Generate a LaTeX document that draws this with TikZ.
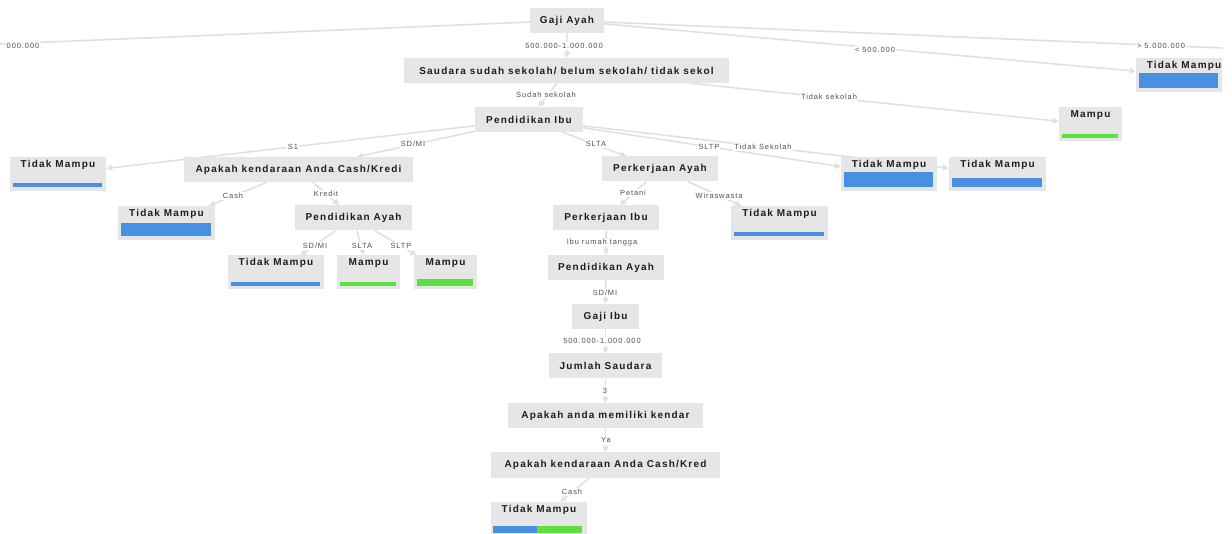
\documentclass[tikz,border=0pt]{standalone}
\usepackage{fontspec}
\usetikzlibrary{calc,arrows.meta,backgrounds}
\newfontfamily\boxfont[LetterSpace=12]{Liberation Sans}
\newfontfamily\lblfont[LetterSpace=12]{Liberation Sans}
\definecolor{boxgray}{HTML}{E6E6E6}
\definecolor{edgegray}{HTML}{E0E0E0}
\definecolor{txtdark}{HTML}{1E1E1E}
\definecolor{lblgray}{HTML}{4F4F5A}
\definecolor{barblue}{HTML}{4A90E2}
\definecolor{bargreen}{HTML}{5CE03E}
\tikzset{
	tanya/.style={fill=boxgray, inner sep=0pt, minimum height=25pt, text=txtdark, font=\boxfont\bfseries\fontsize{10}{11}\selectfont},
	daun/.style={fill=boxgray, inner sep=0pt, minimum height=34pt},
	daunlbl/.style={anchor=north, yshift=-2pt, inner sep=1pt, text=txtdark, font=\boxfont\bfseries\fontsize{10}{11}\selectfont},
	ket/.style={fill=white, inner sep=1pt, text=lblgray, font=\lblfont\fontsize{7.5}{8}\selectfont},
	garis/.style={draw=edgegray, line width=1.6pt},
	panah/.style={garis, -{Triangle[length=6pt,width=6pt]}},
}
\def\skorbar[#1](#2)(#3){\fill[#1] ($(#2.south west)+(3,-4)$) rectangle ($(#2.south east)+(-4,{-4-#3})$);}

\begin{document}
\begin{tikzpicture}[x=1pt,y=-1pt]
		%%%%% START %%%%%
		\useasboundingbox (0,0) rectangle (1232,534);
		
		% pertanyaan
		\node[tanya, minimum width=74pt] (gajiayah) at (567,20.5) {Gaji Ayah};
		\node[tanya, minimum width=325pt] (saudara) at (566.5,70.5) {Saudara sudah sekolah/ belum sekolah/ tidak sekol};
		\node[tanya, minimum width=108pt] (pendibu) at (529,119.5) {Pendidikan Ibu};
		\node[tanya, minimum width=229pt] (kendcash1) at (298.5,169.5) {Apakah kendaraan Anda Cash/Kredi};
		\node[tanya, minimum width=116pt] (perkayah) at (660,169) {Perkerjaan Ayah};
		\node[tanya, minimum width=117pt] (pendayah1) at (353.5,218) {Pendidikan Ayah};
		\node[tanya, minimum width=106pt] (perkibu) at (606,218) {Perkerjaan Ibu};
		\node[tanya, minimum width=116pt] (pendayah2) at (606,267.5) {Pendidikan Ayah};
		\node[tanya, minimum width=67pt] (gajiibu) at (605.5,316.5) {Gaji Ibu};
		\node[tanya, minimum width=113pt] (jumlah) at (605.5,366) {Jumlah Saudara};
		\node[tanya, minimum width=195pt] (memiliki) at (605.5,415.5) {Apakah anda memiliki kendar};
		\node[tanya, minimum width=229pt] (kendcash2) at (605.5,465) {Apakah kendaraan Anda Cash/Kred};
		
		% hasil
		\node[daun, minimum width=86pt, label={[daunlbl, xshift=5pt]north:Tidak Mampu}] (tmtop) at (1179,75) {};
		\node[daun, minimum width=63pt, label={[daunlbl]north:Mampu}] (mptdk) at (1090.5,124.5) {};
		\node[daun, minimum width=96pt, label={[daunlbl]north:Tidak Mampu}] (tms1) at (58,174) {};
		\node[daun, minimum width=96pt, label={[daunlbl]north:Tidak Mampu}] (tmsltp) at (889,174) {};
		\node[daun, minimum width=97pt, label={[daunlbl]north:Tidak Mampu}] (tmtdk) at (997.5,174) {};
		\node[daun, minimum width=97pt, label={[daunlbl]north:Tidak Mampu}] (tmcash) at (166.5,223) {};
		\node[daun, minimum width=97pt, label={[daunlbl]north:Tidak Mampu}] (tmwira) at (779.5,223) {};
		\node[daun, minimum width=96pt, label={[daunlbl]north:Tidak Mampu}] (tmsdmi) at (276,272.5) {};
		\node[daun, minimum width=63pt, label={[daunlbl]north:Mampu}] (mpslta) at (368.5,272.5) {};
		\node[daun, minimum width=63pt, label={[daunlbl]north:Mampu}] (mpsltp) at (445.5,272.5) {};
		\node[daun, minimum width=96pt, label={[daunlbl]north:Tidak Mampu}] (tmakhir) at (539,519) {};
		
		\skorbar[barblue](tmtop)(15)
		\skorbar[bargreen](mptdk)(4)
		\skorbar[barblue](tms1)(4)
		\skorbar[barblue](tmsltp)(15)
		\skorbar[barblue](tmtdk)(9)
		\skorbar[barblue](tmcash)(13)
		\skorbar[barblue](tmwira)(4)
		\skorbar[barblue](tmsdmi)(4)
		\skorbar[bargreen](mpslta)(4)
		\skorbar[bargreen](mpsltp)(7)
		\fill[barblue] ($(tmakhir.south west)+(2,-3)$) rectangle ($(tmakhir.south)+(-2,-10)$);
		\fill[bargreen] ($(tmakhir.south)+(-2,-3)$) rectangle ($(tmakhir.south east)+(-5,-10)$);
		
		% cabang
		\begin{pgfonlayer}{background}
		\coordinate (kiri) at (0,44);
		\coordinate (kanan) at (1222,48);
		\draw[garis] (gajiayah) -- (kiri);
		\draw[garis] (gajiayah) -- (kanan);
		\draw[panah] (gajiayah) -- (saudara);
		\draw[panah] (gajiayah) -- (tmtop);
		\draw[panah] (saudara) -- (pendibu);
		\draw[panah] (saudara) -- (mptdk);
		\draw[panah] (pendibu) -- (tms1);
		\draw[panah] (pendibu) -- (kendcash1);
		\draw[panah] (pendibu) -- (perkayah);
		\draw[panah] (pendibu) -- (tmsltp);
		\draw[panah] (pendibu) -- (tmtdk);
		\draw[panah] (kendcash1) -- (tmcash);
		\draw[panah] (kendcash1) -- (pendayah1);
		\draw[panah] (pendayah1) -- (tmsdmi);
		\draw[panah] (pendayah1) -- (mpslta);
		\draw[panah] (pendayah1) -- (mpsltp);
		\draw[panah] (perkayah) -- (perkibu);
		\draw[panah] (perkayah) -- (tmwira);
		\draw[panah] (perkibu) -- (pendayah2);
		\draw[panah] (pendayah2) -- (gajiibu);
		\draw[panah] (gajiibu) -- (jumlah);
		\draw[panah] (jumlah) -- (memiliki);
		\draw[panah] (memiliki) -- (kendcash2);
		\draw[panah] (kendcash2) -- (tmakhir);
		\end{pgfonlayer}
		
		% keterangan cabang
		\node[ket] (k1) at (23,46) {000.000};
		\node[ket] (k2) at (564,46) {500.000-1.000.000};
		\node[ket] (k3) at (875,50) {< 500.000};
		\node[ket] (k4) at (1161,46) {> 5.000.000};
		\node[ket] (k5) at (546,95) {Sudah sekolah};
		\node[ket] (k6) at (829,97) {Tidak sekolah};
		\node[ket] (k7) at (293,147) {S1};
		\node[ket] (k8) at (413,144) {SD/MI};
		\node[ket] (k9) at (596,144) {SLTA};
		\node[ket] (k10) at (709,147) {SLTP};
		\node[ket] (k11) at (763,147) {Tidak Sekolah};
		\node[ket] (k12) at (233,196) {Cash};
		\node[ket] (k13) at (326,194) {Kredit};
		\node[ket] (k14) at (633,193) {Petani};
		\node[ket] (k15) at (719,196) {Wiraswasta};
		\node[ket] (k16) at (315,246) {SD/MI};
		\node[ket] (k17) at (362,246) {SLTA};
		\node[ket] (k18) at (401,246) {SLTP};
		\node[ket] (k19) at (602,243) {Ibu rumah tangga};
		\node[ket] (k20) at (605,293) {SD/MI};
		\node[ket] (k21) at (602,341) {500.000-1.000.000};
		\node[ket] (k22) at (605,391) {3};
		\node[ket] (k23) at (606,440) {Ya};
		\node[ket] (k24) at (572,492) {Cash};
		
		%%%%% END %%%%%
	\end{tikzpicture}
\end{document}
